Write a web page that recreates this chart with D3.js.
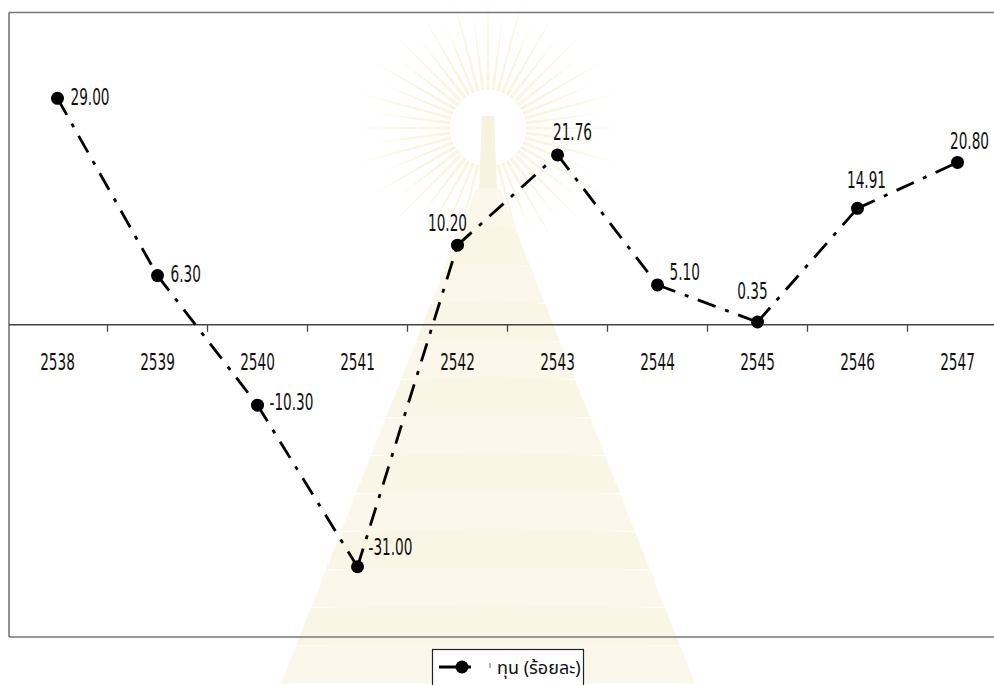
<!DOCTYPE html>
<html>
<head>
<meta charset="utf-8">
<script src="https://cdn.jsdelivr.net/npm/d3@7/dist/d3.min.js"></script>
<style>
  html, body { margin: 0; padding: 0; background: #fff; }
  svg { display: block; }
  .num { font-family: "Liberation Sans Narrow", "DejaVu Sans Condensed", "Liberation Sans", sans-serif; font-size: 23px; fill: #111; }
  .legend-text { font-family: "Noto Sans Thai", "Noto Sans Thai UI", "Loma", "Garuda", "Norasi", "DejaVu Sans", sans-serif; font-size: 18px; fill: #111; }
</style>
</head>
<body>
<svg id="chart" width="994" height="685"></svg>
<script>
// Annual change of capital (percent), Thai Buddhist-era years
const years = ["2538", "2539", "2540", "2541", "2542", "2543", "2544", "2545", "2546", "2547"];
const capital = [29.00, 6.30, -10.30, -31.00, 10.20, 21.76, 5.10, 0.35, 14.91, 20.80];
const seriesName = "ทุน (ร้อยละ)";
const yDomain = [-40, 40];

const svg = d3.select("#chart");
const W = 994, H = 685;

// Faint emblem in the background
const bg = svg.append("g").attr("class", "emblem").attr("opacity", 0.3);
const cx = 488, cy = 128;
const rays = d3.range(0, 360, 7.5);
bg.selectAll("path.ray").data(rays).join("path")
  .attr("class", "ray")
  .attr("d", a => {
    const r0 = 38, r1 = 115 + (a % 15 === 0 ? 20 : 0), w = 2.6 * Math.PI / 180;
    const t = a * Math.PI / 180;
    return `M${cx + r0 * Math.cos(t - w)},${cy + r0 * Math.sin(t - w)}` +
           `L${cx + r1 * Math.cos(t)},${cy + r1 * Math.sin(t)}` +
           `L${cx + r0 * Math.cos(t + w)},${cy + r0 * Math.sin(t + w)}Z`;
  })
  .attr("fill", "#efe0a6");
bg.append("circle").attr("cx", cx).attr("cy", cy).attr("r", 36).attr("fill", "#fff");
bg.append("path")
  .attr("d", `M${cx - 6},${cy - 12} L${cx + 6},${cy - 12} L${cx + 9},${cy + 62} L${cx - 9},${cy + 62}Z`)
  .attr("fill", "#ead99a");
// tiered spire widening toward the base
const tiers = d3.range(0, 13);
bg.selectAll("path.tier").data(tiers).join("path")
  .attr("class", "tier")
  .attr("d", i => {
    const y0 = 190 + i * 38, y1 = y0 + 37;
    const w0 = 12 + i * 15, w1 = 12 + (i + 1) * 15;
    return `M${cx - w0},${y0} Q${cx},${y0 - 6} ${cx + w0},${y0} L${cx + w1},${y1} L${cx - w1},${y1}Z`;
  })
  .attr("fill", (d, i) => i % 2 ? "#f0e3b0" : "#f3e8bd");

// Scales
const x = d3.scaleBand().domain(years).range([7.5, 1007.5]).paddingInner(0).paddingOuter(0);
const y = d3.scaleLinear().domain(yDomain).range([637, 12.5]);
const px = d => x(d) + x.bandwidth() / 2;

// Plot area frame
const frame = svg.append("g");
frame.append("line").attr("x1", 9).attr("x2", W).attr("y1", y(yDomain[1])).attr("y2", y(yDomain[1]))
  .attr("stroke", "#777").attr("stroke-width", 1.3);
frame.append("line").attr("x1", 9).attr("x2", W).attr("y1", y(yDomain[0])).attr("y2", y(yDomain[0]))
  .attr("stroke", "#777").attr("stroke-width", 1.3);
frame.append("line").attr("x1", 9).attr("x2", 9).attr("y1", y(yDomain[1])).attr("y2", y(yDomain[0]))
  .attr("stroke", "#555").attr("stroke-width", 1.3);

// Category axis on the zero line, ticks between categories
const axisG = svg.append("g").attr("transform", `translate(0,${y(0)})`);
axisG.append("line").attr("x1", 9).attr("x2", W).attr("y1", 0).attr("y2", 0)
  .attr("stroke", "#444").attr("stroke-width", 1.3);
axisG.selectAll("line.tick").data(years.slice(1)).join("line")
  .attr("class", "tick")
  .attr("x1", d => x(d)).attr("x2", d => x(d))
  .attr("y1", 0).attr("y2", 7)
  .attr("stroke", "#444").attr("stroke-width", 1.3);
axisG.selectAll("text.year").data(years).join("text")
  .attr("class", "num year")
  .attr("transform", d => `translate(${px(d)},${37}) scale(0.66,1)`)
  .attr("text-anchor", "middle")
  .attr("dy", "0.35em")
  .text(d => d);

// Dash-dot line, pattern restarting at each point
const segs = d3.pairs(years.map((yr, i) => ({ yr, v: capital[i] })));
svg.append("g").selectAll("line").data(segs).join("line")
  .attr("x1", d => px(d[0].yr)).attr("y1", d => y(d[0].v))
  .attr("x2", d => px(d[1].yr)).attr("y2", d => y(d[1].v))
  .attr("stroke", "#000").attr("stroke-width", 2.8)
  .attr("stroke-dasharray", "19 10 4 10");

// Markers
svg.append("g").selectAll("circle").data(years).join("circle")
  .attr("cx", d => px(d)).attr("cy", (d, i) => y(capital[i]))
  .attr("r", 6.5).attr("fill", "#000");

// Value labels: [dx, dy, anchor] relative to each marker
const labelPlace = [
  [13, -1, "start"], [13, -2, "start"], [12, -3, "start"], [11, -20, "start"],
  [-10, -22, "middle"], [15, -23, "middle"], [12, -13, "start"], [-5, -31, "middle"],
  [9, -28, "middle"], [12, -21, "middle"]
];
svg.append("g").selectAll("text").data(years).join("text")
  .attr("class", "num")
  .attr("transform", (d, i) => `translate(${px(d) + labelPlace[i][0]},${y(capital[i]) + labelPlace[i][1]}) scale(0.66,1)`)
  .attr("text-anchor", (d, i) => labelPlace[i][2])
  .attr("dy", "0.35em")
  .text((d, i) => capital[i].toFixed(2));

// Legend
const lg = svg.append("g");
lg.append("rect").attr("x", 432.5).attr("y", 649.5).attr("width", 151).attr("height", 50)
  .attr("fill", "#fff").attr("stroke", "#222").attr("stroke-width", 1.2);
lg.append("line").attr("x1", 439).attr("x2", 471).attr("y1", 667).attr("y2", 667)
  .attr("stroke", "#000").attr("stroke-width", 2.8).attr("stroke-dasharray", "20 2 10");
lg.append("circle").attr("cx", 462).attr("cy", 667).attr("r", 6.5).attr("fill", "#000");
lg.append("line").attr("x1", 490).attr("x2", 490).attr("y1", 663).attr("y2", 668)
  .attr("stroke", "#666").attr("stroke-width", 1);
lg.append("text").attr("class", "legend-text").attr("x", 497).attr("y", 674).text(seriesName);
</script>
</body>
</html>
